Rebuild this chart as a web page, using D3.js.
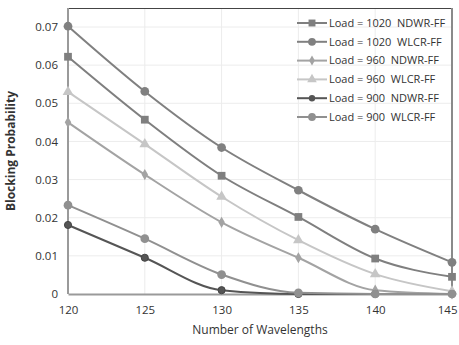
<!DOCTYPE html>
<html>
<head>
<meta charset="utf-8">
<script src="https://cdn.jsdelivr.net/npm/d3@7"></script>
<style>
  body { margin: 0; background: #fff; }
  text { font-family: "Open Sans", "Liberation Sans", sans-serif; fill: #333; }
</style>
</head>
<body>
<div id="chart"></div>
<script>
var wavelengths = [120, 125, 130, 135, 140, 145];
var y_ticks = [0, 0.01, 0.02, 0.03, 0.04, 0.05, 0.06, 0.07];

var load1020_ndwr = [0.0622, 0.0457, 0.0310, 0.0202, 0.0093, 0.0045];
var load1020_wlcr = [0.0702, 0.0531, 0.0384, 0.0272, 0.0170, 0.0083];
var load960_ndwr  = [0.0450, 0.0313, 0.0188, 0.0095, 0.0010, 0.0000];
var load960_wlcr  = [0.0530, 0.0393, 0.0255, 0.0141, 0.0052, 0.0007];
var load900_ndwr  = [0.0181, 0.0095, 0.0010, 0.0000, 0.0000, 0.0000];
var load900_wlcr  = [0.0233, 0.0145, 0.0051, 0.0003, 0.0000, 0.0000];

var series_names = [
  'Load = 1020  NDWR-FF', 'Load = 1020  WLCR-FF',
  'Load = 960  NDWR-FF', 'Load = 960  WLCR-FF',
  'Load = 900  NDWR-FF', 'Load = 900  WLCR-FF'
];

var series = [
  { name: series_names[0], values: load1020_ndwr, color: '#7f7f7f', symbol: d3.symbolSquare, size: 60 },
  { name: series_names[1], values: load1020_wlcr, color: '#808080', symbol: d3.symbolCircle, size: 60 },
  { name: series_names[2], values: load960_ndwr,  color: '#a3a3a3', symbol: d3.symbolDiamond, size: 36 },
  { name: series_names[3], values: load960_wlcr,  color: '#c6c6c6', symbol: d3.symbolTriangle, size: 50 },
  { name: series_names[4], values: load900_ndwr,  color: '#555555', symbol: d3.symbolCircle, size: 40 },
  { name: series_names[5], values: load900_wlcr,  color: '#909090', symbol: d3.symbolCircle, size: 60 }
];

var width  = 459;
var height = 345;
var margin = { top: 8, right: 7, bottom: 51, left: 68 };

var x_scale = d3.scaleLinear()
  .domain([120, 145])
  .range([margin.left, width - margin.right]);

var y_scale = d3.scaleLinear()
  .domain([0, 0.07])
  .range([height - margin.bottom, 27]);

var svg = d3.select('#chart')
  .append('svg')
  .attr('width', width)
  .attr('height', height);

// gridlines
svg.append('g')
  .selectAll('line')
  .data(y_ticks.slice(1))
  .join('line')
  .attr('x1', margin.left).attr('x2', width - margin.right)
  .attr('y1', function(d) { return y_scale(d); })
  .attr('y2', function(d) { return y_scale(d); })
  .attr('stroke', '#ececec');

svg.append('g')
  .selectAll('line')
  .data(wavelengths.slice(1, -1))
  .join('line')
  .attr('y1', margin.top).attr('y2', height - margin.bottom)
  .attr('x1', function(d) { return x_scale(d); })
  .attr('x2', function(d) { return x_scale(d); })
  .attr('stroke', '#ececec');

// frame
svg.append('line')
  .attr('x1', margin.left).attr('x2', width - margin.right)
  .attr('y1', margin.top + 0.5).attr('y2', margin.top + 0.5)
  .attr('stroke', '#444').attr('stroke-width', 1);
svg.append('line')
  .attr('x1', width - margin.right).attr('x2', width - margin.right)
  .attr('y1', margin.top).attr('y2', height - margin.bottom)
  .attr('stroke', '#8a8a8a').attr('stroke-width', 2);

// axes
var x_axis = d3.axisBottom(x_scale)
  .tickValues(wavelengths)
  .tickSize(0)
  .tickPadding(12)
  .tickFormat(d3.format('d'));

var y_axis = d3.axisLeft(y_scale)
  .tickValues(y_ticks)
  .tickSize(0)
  .tickPadding(10)
  .tickFormat(function(d) { return d === 0 ? '0' : d3.format('.2f')(d); });

svg.append('g')
  .attr('transform', 'translate(0,' + (height - margin.bottom) + ')')
  .call(x_axis)
  .call(function(g) {
    g.select('.domain').attr('stroke', '#9a9a9a').attr('stroke-width', 2);
    g.selectAll('text').attr('font-size', 11.5).attr('fill', '#333');
    // last label would be clipped by the window edge
    g.selectAll('text').filter(function(d) { return d === 145; })
      .attr('text-anchor', 'end').attr('dx', 5);
  });

svg.append('g')
  .attr('transform', 'translate(' + margin.left + ',0)')
  .call(y_axis)
  .call(function(g) {
    g.select('.domain').attr('stroke', '#9a9a9a').attr('stroke-width', 2)
      .attr('d', 'M0,' + (height - margin.bottom) + 'V' + margin.top);
    g.selectAll('text').attr('font-size', 11.5).attr('fill', '#333');
  });

// axis titles
svg.append('text')
  .attr('x', (margin.left + width - margin.right) / 2)
  .attr('y', 334)
  .attr('text-anchor', 'middle')
  .attr('font-size', 12)
  .text('Number of Wavelengths');

svg.append('text')
  .attr('transform', 'translate(15,' + ((margin.top + height - margin.bottom) / 2) + ') rotate(-90)')
  .attr('text-anchor', 'middle')
  .attr('font-size', 12)
  .attr('font-weight', 'bold')
  .text('Blocking Probability');

// lines
var line = d3.line()
  .x(function(d, i) { return x_scale(wavelengths[i]); })
  .y(function(d) { return y_scale(d); })
  .curve(d3.curveMonotoneX);

var groups = svg.append('g')
  .selectAll('g')
  .data(series)
  .join('g');

groups.append('path')
  .attr('d', function(s) { return line(s.values); })
  .attr('fill', 'none')
  .attr('stroke', function(s) { return s.color; })
  .attr('stroke-width', 2);

groups.each(function(s) {
  d3.select(this).selectAll('path.pt')
    .data(s.values)
    .join('path')
    .attr('class', 'pt')
    .attr('transform', function(d, i) {
      return 'translate(' + x_scale(wavelengths[i]) + ',' + y_scale(d) + ')';
    })
    .attr('d', d3.symbol().type(s.symbol).size(s.size))
    .attr('fill', s.color)
    .attr('stroke', s.symbol === d3.symbolCircle && s.size === 40 ? '#444' : 'none');
});

// legend
var legend = svg.append('g')
  .selectAll('g')
  .data(series)
  .join('g')
  .attr('transform', function(s, i) { return 'translate(297,' + (23 + i * 18.8) + ')'; });

legend.append('line')
  .attr('x1', 0).attr('x2', 30)
  .attr('stroke', function(s) { return s.color; })
  .attr('stroke-width', 2);

legend.append('path')
  .attr('transform', 'translate(15,0)')
  .attr('d', function(s) { return d3.symbol().type(s.symbol).size(s.size * 0.8)(); })
  .attr('fill', function(s) { return s.color; });

legend.append('text')
  .attr('x', 32)
  .attr('dy', '0.35em')
  .attr('font-size', 11)
  .attr('fill', '#222')
  .style('white-space', 'pre')
  .text(function(s) { return s.name; });
</script>
</body>
</html>
